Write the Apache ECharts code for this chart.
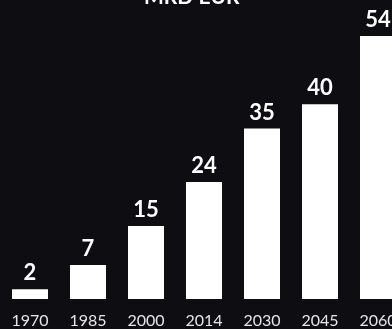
<!DOCTYPE html>
<html>
<head>
<meta charset="utf-8">
<script src="https://cdn.jsdelivr.net/npm/echarts@6/dist/echarts.min.js"></script>
<style>
html,body{margin:0;padding:0;background:#0d0d12;overflow:hidden;width:392px;height:329px;}
#c{width:408px;height:329px;}
</style>
</head>
<body>
<div id="c"></div>
<script>
const categories = ['1970', '1985', '2000', '2014', '2030', '2045', '2060'];
const values = [2, 7, 15, 24, 35, 40, 54];
const titleText = 'MRD EUR';

const chart = echarts.init(document.getElementById('c'), null, {renderer: 'canvas'});
chart.setOption({
  backgroundColor: '#0d0d12',
  animation: false,
  graphic: [{
    type: 'text',
    left: 204 - 60,
    top: -13,
    style: {
      text: titleText,
      fill: '#ffffff',
      font: 'bold 21px Lato',
      width: 120,
      align: 'center'
    }
  }],
  grid: {left: 1, right: 1, top: 36, bottom: 27, containLabel: false},
  xAxis: {
    type: 'category',
    data: categories,
    axisLine: {show: false},
    axisTick: {show: false},
    axisLabel: {color: '#e6e6e6', fontFamily: 'Lato', fontSize: 16, margin: 14}
  },
  yAxis: {
    type: 'value',
    min: 0,
    max: 54,
    show: false,
    splitLine: {show: false}
  },
  series: [{
    type: 'bar',
    data: values,
    barWidth: 36,
    itemStyle: {color: '#ffffff'},
    label: {
      show: true,
      position: 'top',
      distance: 5,
      color: '#ffffff',
      fontFamily: 'Lato',
      fontWeight: 'bold',
      fontSize: 22
    }
  }]
});
</script>
</body>
</html>
